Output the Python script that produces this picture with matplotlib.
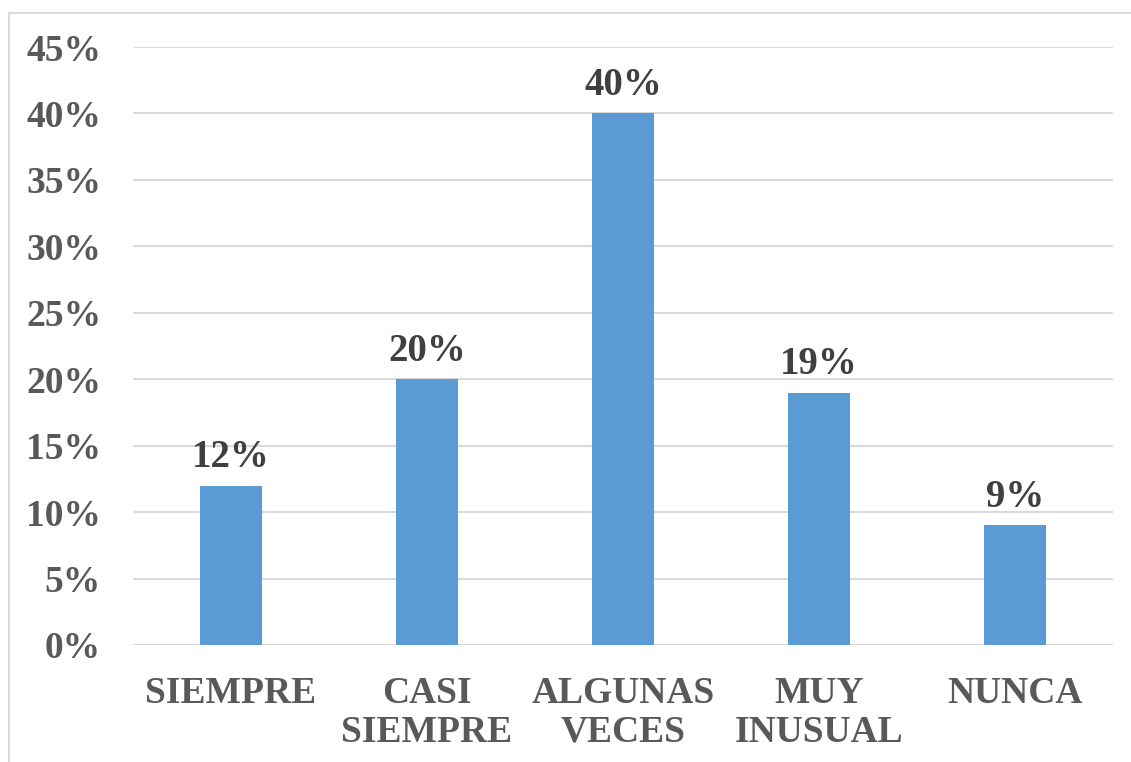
import matplotlib
matplotlib.use("Agg")
import matplotlib.pyplot as plt
from matplotlib.ticker import MultipleLocator, FuncFormatter
from matplotlib.lines import Line2D

categories = ["SIEMPRE", "CASI\nSIEMPRE", "ALGUNAS\nVECES", "MUY\nINUSUAL", "NUNCA"]
values = [12, 20, 40, 19, 9]
labels = ["12%", "20%", "40%", "19%", "9%"]

W, H = 1131, 762
fig = plt.figure(figsize=(W / 100, H / 100), dpi=100)
plt.rcParams['font.family'] = ['Liberation Serif', 'DejaVu Serif']

txt = "#595959"
grid = "#D9D9D9"
bar_c = "#5B9BD5"

# outer chart border (top and left visible)
fig.add_artist(Line2D([9 / W, 1], [1 - 13 / H, 1 - 13 / H], color=grid, lw=1.5, transform=fig.transFigure))
fig.add_artist(Line2D([9 / W, 9 / W], [0, 1 - 13 / H], color=grid, lw=1.5, transform=fig.transFigure))

x0, x1 = 133, 1113
y_top, y_bot = 47, 645
ax = fig.add_axes([x0 / W, 1 - y_bot / H, (x1 - x0) / W, (y_bot - y_top) / H])
x = list(range(len(categories)))
ax.bar(x, values, width=0.316, color=bar_c, zorder=3)
ax.set_xlim(-0.5, len(categories) - 0.5)
ax.set_ylim(0, 45)
ax.yaxis.set_major_locator(MultipleLocator(5))
ax.yaxis.set_major_formatter(FuncFormatter(lambda v, p: f"{int(round(v))}%"))
ax.grid(axis="y", color=grid, lw=1.5, zorder=0)
for s in ax.spines.values():
    s.set_visible(False)
ax.tick_params(axis="both", length=0, labelsize=27, labelcolor=txt)
ax.tick_params(axis="y", pad=23)
ax.tick_params(axis="x", pad=22)
ax.set_xticks(x)
ax.set_xticklabels(categories, fontweight="bold", linespacing=1.15, va="top")
for lab in ax.get_yticklabels():
    lab.set_fontweight("bold")
for xi, v, l in zip(x, values, labels):
    ax.annotate(l, (xi, v), xytext=(0, 7), textcoords="offset points",
                ha="center", va="bottom", fontsize=28, fontweight="bold", color="#404040")

fig.savefig("out.png", dpi=100, facecolor="white")
